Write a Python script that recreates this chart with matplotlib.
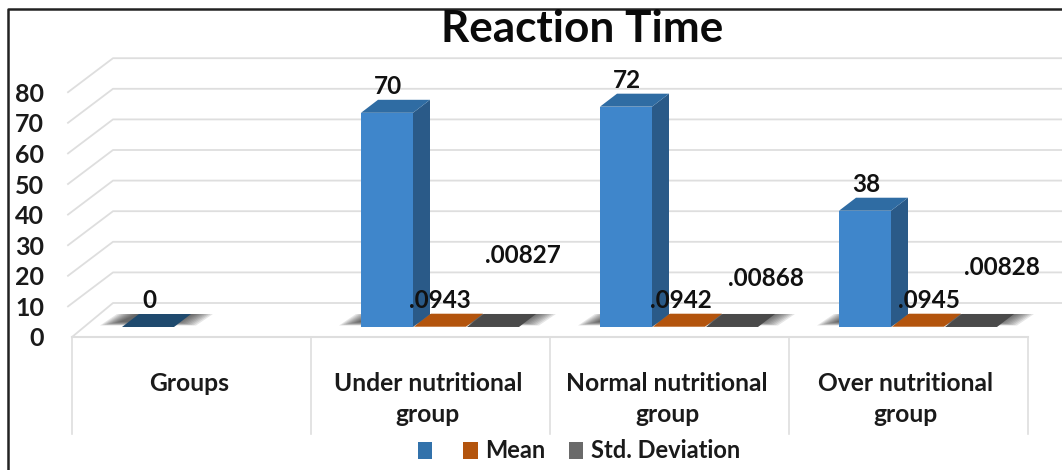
import numpy as np
import matplotlib
matplotlib.use("Agg")
import matplotlib.pyplot as plt
from matplotlib.patches import Polygon, Patch
from matplotlib.transforms import blended_transform_factory, ScaledTranslation

categories = ["Groups", "Under nutritional\ngroup", "Normal nutritional\ngroup", "Over nutritional\ngroup"]
blue_values = [0, 70, 72, 38]
mean_values = [np.nan, 0.0943, 0.0942, 0.0945]
std_values = [np.nan, 0.00827, 0.00868, 0.00828]
mean_labels = ["", ".0943", ".0942", ".0945"]
std_labels = ["", ".00827", ".00868", ".00828"]
y_ticks = [0, 10, 20, 30, 40, 50, 60, 70, 80]

# layout, in pixels of the 1062x470 picture
W, H = 1062, 470
LEFT, RIGHT, FLOOR, TOP = 72, 1028, 337, 9
PX_X = 4 / (RIGHT - LEFT)
PX_Y = 1 / 3.06
BASE = 10 * PX_Y          # bar base above the front floor edge
BACK = 34 * PX_Y          # back wall above the front floor edge
DX, DY = 17 * PX_X, 13 * PX_Y
BAR_W = 52 * PX_X
GROUP_OFF = -69.5 * PX_X
MEAN_OFFSETS = [(0, 0), (0, 26), (2, 26), (11, 26)]
STD_OFFSETS = [(0, 0), (30, 71), (34, 48), (31, 59)]
FONT = "Lato"
LABEL_SIZE = 17.5

fig = plt.figure(figsize=(W / 100, H / 100), dpi=100, facecolor="white")
ax = fig.add_axes([LEFT / W, 1 - FLOOR / H, (RIGHT - LEFT) / W, (FLOOR - TOP) / H])
ax.set_xlim(0, 4)
ax.set_ylim(0, (FLOOR - TOP) * PX_Y)
ax.patch.set_visible(False)
for s in ax.spines.values():
    s.set_visible(False)

GRID = "#dedede"
xr = (W - LEFT) * PX_X
for v in y_ticks:
    xf = (-4 if v else 0) * PX_X
    xb = 41 * PX_X
    ax.plot([xf, xb, xr], [v, v + BACK, v + BACK], color=GRID, lw=1.3, clip_on=False, zorder=1)
ax.plot([0, 4], [0, 0], color=GRID, lw=1.5, clip_on=False, zorder=1)
trans = blended_transform_factory(ax.transData, ax.transAxes)
for x in range(5):
    ax.plot([x, x], [0, -97 / (FLOOR - TOP)], color=GRID, lw=1.2, transform=trans, clip_on=False, zorder=1)


def poly(pts, color, z, alpha=1.0):
    ax.add_patch(Polygon(pts, closed=True, facecolor=color, edgecolor="none", alpha=alpha, zorder=z, clip_on=False))


def shadow(x0, x1):
    for k in range(10):
        ext = (22 - 2.2 * k) * PX_X
        y0 = BASE + (1.5 + 0.4 * k) * PX_Y
        poly([(x0 - ext, y0), (x1 + ext, y0), (x1 + DX + ext, BASE + DY), (x0 + DX - ext, BASE + DY)],
             "#333333", 2, 0.12)


def bar3d(x, h, front, top, side, z):
    hv = h + BASE
    if h >= 1:
        poly([(x, BASE), (x + BAR_W, BASE), (x + BAR_W, hv), (x, hv)], front, z + 0.2)
        poly([(x + BAR_W, BASE), (x + BAR_W + DX, BASE + DY), (x + BAR_W + DX, hv + DY), (x + BAR_W, hv)], side, z + 0.1)
    poly([(x, hv), (x + BAR_W, hv), (x + BAR_W + DX, hv + DY), (x + DX, hv + DY)], top, z + 0.2)


text_kw = dict(textcoords="offset pixels", ha="center", va="center", fontsize=LABEL_SIZE,
               fontweight="bold", family=FONT, color="#111111", zorder=9)

for i in range(len(categories)):
    x0 = i + 0.5 + GROUP_OFF
    n = 3 if not np.isnan(mean_values[i]) else 1
    shadow(x0, x0 + n * BAR_W)
    h = blue_values[i]
    bar3d(x0, h, "#3f86cb", "#2f6ca3" if h else "#1f4a6e", "#2a5a88", 3)
    ax.annotate(str(h), (x0 + BAR_W / 2, h + BASE), xytext=(1, 26), **text_kw)
    if n == 3:
        xm, xs = x0 + BAR_W + 1 * PX_X, x0 + 2 * BAR_W + 2 * PX_X
        bar3d(xm, mean_values[i], "#b3540d", "#b3540d", "#b3540d", 4)
        bar3d(xs, std_values[i], "#4a4a4a", "#4a4a4a", "#4a4a4a", 3.5)
        ax.annotate(mean_labels[i], (xm + BAR_W / 2, mean_values[i] + BASE), xytext=MEAN_OFFSETS[i], **text_kw)
        ax.annotate(std_labels[i], (xs + BAR_W / 2, std_values[i] + BASE), xytext=STD_OFFSETS[i], **text_kw)

ax.set_yticks(y_ticks)
ax.set_yticklabels([str(v) for v in y_ticks], fontsize=18, fontweight="bold", family=FONT, color="#1a1a1a")
ax.set_xticks([0.5, 1.5, 2.5, 3.5])
ax.set_xticklabels(categories, fontsize=17.7, fontweight="bold", family=FONT, color="#1a1a1a", linespacing=1.44)
ax.tick_params(axis="y", length=0, pad=20)
ax.tick_params(axis="x", length=0, pad=25)
for lab in ax.get_xticklabels():
    lab.set_transform(lab.get_transform() + ScaledTranslation(-2.5 / 100, 0, fig.dpi_scale_trans))

fig.text(582 / W, 1 - 29 / H, "Reaction Time", ha="center", va="center", fontsize=31.8,
         fontweight="bold", family=FONT, color="#0a0a0a")

handles = [Patch(facecolor="#3272ab"), Patch(facecolor="#b3540d"), Patch(facecolor="#6a6a6a")]
leg = fig.legend(handles, ["", "Mean", "Std. Deviation"], loc="center", ncol=3,
                 bbox_to_anchor=(579 / W, 1 - 451 / H), frameon=False, handlelength=0.6, handleheight=0.75,
                 handletextpad=0.32, columnspacing=1.0, borderpad=0,
                 prop={"family": FONT, "weight": "bold", "size": 17})
for t in leg.get_texts():
    t.set_color("#1a1a1a")

# outer border of the picture
fig.add_artist(plt.Line2D([8 / W, 8 / W, 1], [0, 1 - 9 / H, 1 - 9 / H], color="#222222", lw=1.8))

fig.savefig("out.png", dpi=100, facecolor="white")
